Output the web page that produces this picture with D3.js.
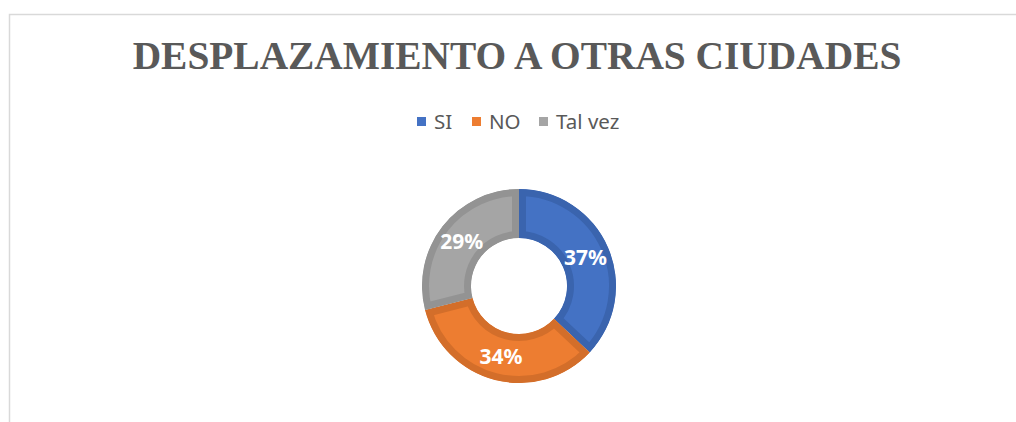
<!DOCTYPE html>
<html>
<head>
<meta charset="utf-8">
<script src="https://cdn.jsdelivr.net/npm/d3@7"></script>
<style>
  body { margin: 0; background: #fff; }
</style>
</head>
<body>
<div id="chart"></div>
<script>
var categories = ["SI", "NO", "Tal vez"];
var values = [37, 34, 29];
var fills = ["#4472C4", "#ED7D31", "#A5A5A5"];
var borders = ["#3A64AE", "#D36E2A", "#939393"];

var width = 1016, height = 422;

var svg = d3.select("#chart").append("svg")
    .attr("width", width)
    .attr("height", height);

// chart area frame (runs off the right and bottom edges)
svg.append("rect")
    .attr("x", 9.5).attr("y", 14.5)
    .attr("width", width + 20).attr("height", height + 20)
    .style("fill", "#fff")
    .style("stroke", "#d9d9d9")
    .style("stroke-width", 1.5);

svg.append("text")
    .attr("x", 517).attr("y", 69)
    .attr("text-anchor", "middle")
    .style("font-family", "'Liberation Serif', 'Times New Roman', serif")
    .style("font-weight", "bold")
    .style("font-size", "39.4px")
    .style("fill", "#595959")
    .text("DESPLAZAMIENTO A OTRAS CIUDADES");

// legend
var legendX = [417, 472, 539];
var legend = svg.append("g")
    .selectAll("g")
    .data(categories)
    .enter().append("g")
    .attr("transform", function(d, i) { return "translate(" + legendX[i] + ",117)"; });

legend.append("rect")
    .attr("width", 9).attr("height", 9)
    .style("fill", function(d, i) { return fills[i]; });

legend.append("text")
    .attr("x", 17).attr("y", 4.5)
    .attr("dy", ".35em")
    .style("font-family", "'Noto Sans', sans-serif")
    .style("font-size", "20.5px")
    .style("fill", "#595959")
    .text(function(d) { return d; });

// donut
var cx = 519, cy = 286, outer = 97, inner = 48;
var pie = d3.pie().sort(null).value(function(d) { return d; });
var arc = d3.arc().innerRadius(inner).outerRadius(outer);
var labelArc = d3.arc().innerRadius((inner + outer) / 2).outerRadius((inner + outer) / 2);
var arcs = pie(values);

var g = svg.append("g").attr("transform", "translate(" + cx + "," + cy + ")");

var defs = svg.append("defs");
arcs.forEach(function(a, i) {
    defs.append("clipPath").attr("id", "clip" + i)
        .append("path").attr("d", arc(a));
});

g.selectAll("path.slice")
    .data(arcs)
    .enter().append("path")
    .attr("class", "slice")
    .attr("d", arc)
    .attr("clip-path", function(d, i) { return "url(#clip" + i + ")"; })
    .style("fill", function(d, i) { return fills[i]; })
    .style("stroke", function(d, i) { return borders[i]; })
    .style("stroke-width", 14)
    .style("stroke-linejoin", "miter");

g.selectAll("text.lbl")
    .data(arcs)
    .enter().append("text")
    .attr("class", "lbl")
    .attr("transform", function(d) { return "translate(" + labelArc.centroid(d) + ")"; })
    .attr("text-anchor", "middle")
    .attr("dy", ".35em")
    .style("font-family", "'Noto Sans', sans-serif")
    .style("font-weight", "bold")
    .style("font-size", "21px")
    .style("fill", "#fff")
    .text(function(d) { return d.data + "%"; });
</script>
</body>
</html>
